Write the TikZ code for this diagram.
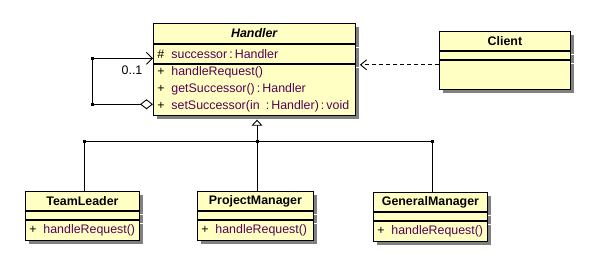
\documentclass[tikz,border=0pt]{standalone}
\usepackage{fontspec}
\setmainfont{Liberation Sans}
\usepackage{tikz}
\usetikzlibrary{arrows.meta, positioning, shadows}
\definecolor{classfill}{HTML}{FFFFC4}
\definecolor{membertext}{HTML}{550055}
\definecolor{shadowgray}{HTML}{808080}
\newcommand{\member}[2]{\makebox[14pt][l]{#1}\textcolor{membertext}{\mbox{#2}}}

\begin{document}
\begin{tikzpicture}[
  x=1pt, y=-1pt,
  font=\fontsize{12.4}{17}\selectfont,
  compart/.style={rectangle, draw, fill=classfill, line width=0.9pt, inner sep=0pt,
                  drop shadow={shadow xshift=4pt, shadow yshift=-4pt, fill=shadowgray, opacity=1}},
  classname/.style={compart, minimum height=19pt, font=\fontsize{12.4}{14}\selectfont\bfseries},
  slot/.style={compart, minimum height=8pt},
  members/.style={compart, align=left, inner xsep=4pt},
  joint/.style={rectangle, fill, minimum size=3pt, inner sep=0pt},
  link/.style={line width=0.9pt},
  generalize/.style={link, -{Triangle[open, length=6pt, width=11pt]}},
  depend/.style={link, dash pattern=on 4pt off 3pt, -{Straight Barb[length=6pt, width=10pt]}},
  aggregate/.style={link, {Diamond[open, length=13pt, width=10pt]}-{Straight Barb[length=6pt, width=12pt]}}
]
\useasboundingbox (0,0) rectangle (590,260);

% abstract handler
\node[classname, minimum width=202pt, minimum height=20pt, anchor=north west] (handler) at (153,23) {\textit{Handler}};
\node[members, text width=194pt, minimum height=19pt, below=0pt of handler] (handlerattr) {\member{\#}{successor\,:\,Handler}};
\node[members, text width=194pt, minimum height=51pt, below=0pt of handlerattr] (handlerops)
  {\member{+}{handleRequest()}\\ \member{+}{getSuccessor()\,:\,Handler}\\ \member{+}{setSuccessor(in\ \,:\,Handler)\,:\,void}};

% client
\node[classname, minimum width=131pt, anchor=north west] (client) at (439,31) {Client};
\node[slot, minimum width=131pt, below=0pt of client] (clientattr) {};
\node[slot, minimum width=131pt, minimum height=29pt, below=0pt of clientattr] (clientops) {};

% concrete handlers
\node[classname, minimum width=114pt, anchor=north west] (teamleader) at (25,191) {TeamLeader};
\node[slot, minimum width=114pt, below=0pt of teamleader] (teamleaderattr) {};
\node[members, text width=106pt, minimum height=20pt, below=0pt of teamleaderattr] (teamleaderops) {\member{+}{handleRequest()}};

\node[classname, minimum width=116pt, anchor=north west] (projectmanager) at (197,191) {ProjectManager};
\node[slot, minimum width=116pt, below=0pt of projectmanager] (projectmanagerattr) {};
\node[members, text width=108pt, minimum height=20pt, below=0pt of projectmanagerattr] (projectmanagerops) {\member{+}{handleRequest()}};

\node[classname, minimum width=114pt, anchor=north west] (generalmanager) at (373,192) {GeneralManager};
\node[slot, minimum width=114pt, below=0pt of generalmanager] (generalmanagerattr) {};
\node[members, text width=106pt, minimum height=20pt, below=0pt of generalmanagerattr] (generalmanagerops) {\member{+}{handleRequest()}};

% inheritance tree
\node[joint] (hub) at (257,141) {};
\node[joint] (jleft) at (84,141) {};
\node[joint] (jright) at (432,141) {};
\coordinate (htip) at ([yshift=-4pt]handlerops.south);
\draw[link] (jleft.center) -- (jright.center);
\draw[generalize] (hub.center) -- (hub.center |- htip);
\draw[link] (jleft.center) -- (jleft.center |- teamleader.north);
\draw[link] (hub.center) -- (hub.center |- projectmanager.north);
\draw[link] (jright.center) -- (jright.center |- generalmanager.north);

% successor self-association
\coordinate (selfin) at ([yshift=-4.5pt]handlerattr.west);
\coordinate (selfout) at ([yshift=-14.5pt]handlerops.west);
\node[joint] (looptop) at ([xshift=-61pt]selfin) {};
\node[joint] (loopbot) at ([xshift=-61pt]selfout) {};
\draw[aggregate] (selfout) -- (loopbot.center) -- (looptop.center) -- (selfin);
\node (mult) at (132,70) {0..1};

% client uses handler
\coordinate (depstart) at ([yshift=-5pt]clientops.north west);
\path (depstart -| handlerops.east) coordinate (depedge);
\draw[depend] (depstart) -- ([xshift=4pt]depedge);

\end{tikzpicture}
\end{document}
